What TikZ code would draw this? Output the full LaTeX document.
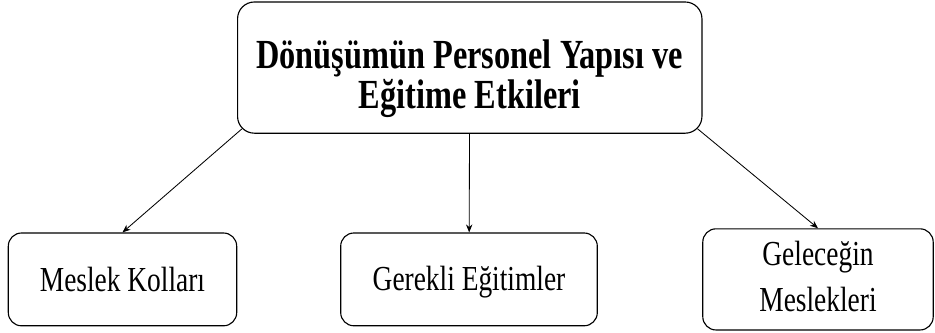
\documentclass[tikz,border=0pt]{standalone}
\usepackage{fontspec}
\setmainfont{Liberation Serif}
\usepackage{graphicx}
\usepackage{tikz}
\usetikzlibrary{arrows.meta,positioning}
\newcommand{\tallbox}[2][0cm]{\raisebox{#1}[\height][\depth]{\scalebox{1}[1.28]{\begin{tabular}{@{}c@{}}#2\end{tabular}}}}

\begin{document}
\begin{tikzpicture}[
  head/.style={rectangle,draw,line width=0.8pt,rounded corners=0.42cm,
    minimum width=11.61cm,minimum height=3.28cm,align=center,
    font=\fontsize{23}{20.5}\selectfont\bfseries},
  leaf/.style={rectangle,draw,line width=0.8pt,rounded corners=0.33cm,
    minimum height=2.32cm,align=center,
    font=\fontsize{19.5}{25.5}\selectfont},
  arrow/.style={-{Stealth[length=2mm,width=1.6mm]},line width=0.6pt},
]
  \useasboundingbox (0,0) rectangle (23.375,-8.325);
  \node[head] (top) at (11.744,-1.69) {\tallbox[-0.3cm]{Dönüşümün Personel Yapısı ve\\Eğitime Etkileri}};
  \node[leaf,minimum width=5.71cm]  (kollar)   at (3.0625,-6.985) {\tallbox[-0.08cm]{Meslek Kolları}};
  \node[leaf,minimum width=6.415cm] (egitim)   at (11.725,-6.985) {\tallbox[-0.06cm]{Gerekli Eğitimler}};
  \node[leaf,minimum width=5.76cm]  (gelecek)  at (20.45,-6.985)  {\tallbox{Geleceğin\\Meslekleri}};
  \draw[arrow] ([shift={(0.12,0.12)}]top.south west)  -- (kollar.north);
  \draw[arrow] (top) -- (egitim);
  \draw[arrow] ([shift={(-0.12,0.12)}]top.south east) -- (gelecek.north);
\end{tikzpicture}
\end{document}
